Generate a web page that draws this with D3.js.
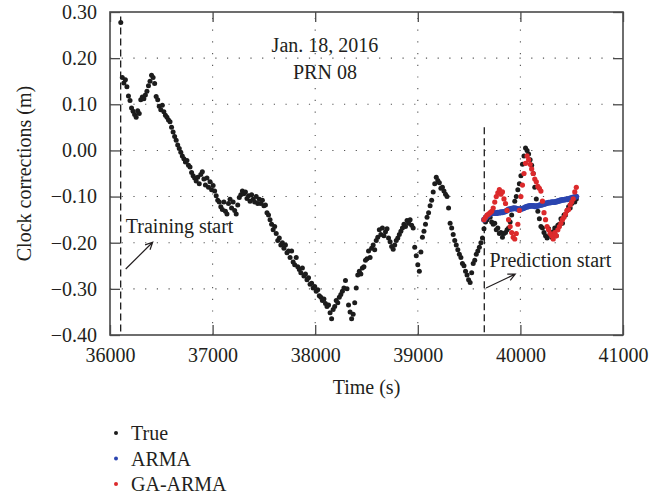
<!DOCTYPE html>
<html>
<head>
<meta charset="utf-8">
<script src="https://cdn.jsdelivr.net/npm/d3@7"></script>
<style>
body { margin: 0; background: #fff; }
svg text { font-family: "Liberation Serif", "Times New Roman", serif; fill: #231f20; }
</style>
</head>
<body>
<svg width="667" height="498"></svg>
<script>
// sampling of the clock series (s)
var tStart = 36105, tStep = 15;
var predStart = 39645;

var trueValues = [
  0.277, 0.158, 0.146, 0.153, 0.138, 0.118, 0.108, 0.092, 0.085, 0.078,
  0.072, 0.086, 0.080, 0.110, 0.116, 0.112, 0.120, 0.128, 0.140, 0.150,
  0.163, 0.158, 0.145, 0.117, 0.110, 0.096, 0.088, 0.098, 0.084, 0.076,
  0.072, 0.066, 0.062, 0.050, 0.040, 0.030, 0.022, 0.012, 0.004, -0.004,
  -0.012, -0.018, -0.025, -0.022, -0.032, -0.036, -0.048, -0.055, -0.060, -0.066,
  -0.058, -0.072, -0.052, -0.046, -0.062, -0.075, -0.060, -0.080, -0.068, -0.085,
  -0.076, -0.088, -0.098, -0.108, -0.112, -0.122, -0.128, -0.112, -0.132, -0.138,
  -0.115, -0.106, -0.125, -0.112, -0.130, -0.138, -0.118, -0.102, -0.096, -0.088,
  -0.094, -0.090, -0.104, -0.098, -0.110, -0.096, -0.106, -0.112, -0.100, -0.115,
  -0.106, -0.115, -0.108, -0.120, -0.118, -0.135, -0.140, -0.150, -0.160, -0.172,
  -0.165, -0.180, -0.195, -0.190, -0.205, -0.200, -0.212, -0.205, -0.222, -0.218,
  -0.232, -0.218, -0.242, -0.248, -0.232, -0.252, -0.258, -0.265, -0.255, -0.272,
  -0.268, -0.280, -0.276, -0.290, -0.288, -0.298, -0.295, -0.305, -0.302, -0.315,
  -0.318, -0.325, -0.322, -0.332, -0.338, -0.335, -0.352, -0.365, -0.345, -0.338,
  -0.325, -0.330, -0.318, -0.312, -0.305, -0.298, -0.282, -0.300, -0.335, -0.350,
  -0.365, -0.355, -0.330, -0.298, -0.270, -0.262, -0.268, -0.255, -0.252, -0.238,
  -0.235, -0.218, -0.232, -0.212, -0.205, -0.215, -0.195, -0.188, -0.172, -0.182,
  -0.168, -0.185, -0.176, -0.170, -0.190, -0.198, -0.208, -0.214, -0.205, -0.195,
  -0.190, -0.182, -0.175, -0.168, -0.160, -0.165, -0.152, -0.158, -0.150, -0.162,
  -0.168, -0.210, -0.228, -0.248, -0.262, -0.220, -0.188, -0.175, -0.160, -0.145,
  -0.135, -0.120, -0.108, -0.090, -0.072, -0.058, -0.065, -0.070, -0.082, -0.080,
  -0.088, -0.095, -0.100, -0.125, -0.158, -0.168, -0.182, -0.195, -0.205, -0.215,
  -0.225, -0.232, -0.245, -0.250, -0.262, -0.270, -0.280, -0.286, -0.265, -0.245,
  -0.238, -0.225, -0.218, -0.210, -0.200, -0.190, -0.170, -0.155, -0.150, -0.142,
  -0.145, -0.155, -0.160, -0.158, -0.172, -0.168, -0.180, -0.178, -0.188, -0.180,
  -0.178, -0.172, -0.168, -0.155, -0.140, -0.125, -0.110, -0.100, -0.085, -0.072,
  -0.055, -0.030, -0.012, 0.005, 0.000, -0.008, -0.020, -0.032, -0.050, -0.080,
  -0.105, -0.132, -0.148, -0.165, -0.168, -0.178, -0.185, -0.190, -0.170, -0.182,
  -0.188, -0.176, -0.168, -0.185, -0.162, -0.160, -0.148, -0.158, -0.140, -0.140,
  -0.130, -0.122, -0.125, -0.115, -0.110, -0.112, -0.105
];

var armaValues = [
  -0.150, -0.146, -0.142, -0.140, -0.137, -0.136, -0.135, -0.136, -0.136, -0.135,
  -0.135, -0.134, -0.134, -0.133, -0.132, -0.130, -0.128, -0.127, -0.126, -0.126,
  -0.125, -0.126, -0.127, -0.127, -0.127, -0.126, -0.125, -0.123, -0.122, -0.121,
  -0.120, -0.120, -0.120, -0.121, -0.121, -0.120, -0.119, -0.118, -0.117, -0.116,
  -0.115, -0.114, -0.113, -0.113, -0.112, -0.112, -0.112, -0.111, -0.110, -0.109,
  -0.108, -0.107, -0.107, -0.106, -0.106, -0.105, -0.104, -0.103, -0.102, -0.101,
  -0.100
];

var gaArmaValues = [
  -0.150, -0.145, -0.140, -0.138, -0.135, -0.132, -0.125, -0.112, -0.100, -0.092,
  -0.085, -0.095, -0.090, -0.105, -0.115, -0.130, -0.150, -0.165, -0.178, -0.188,
  -0.192, -0.180, -0.160, -0.130, -0.100, -0.075, -0.050, -0.028, -0.012, -0.020,
  -0.030, -0.040, -0.050, -0.062, -0.068, -0.078, -0.082, -0.088, -0.110, -0.135,
  -0.150, -0.165, -0.172, -0.180, -0.185, -0.192, -0.178, -0.185, -0.172, -0.165,
  -0.158, -0.150, -0.145, -0.138, -0.130, -0.128, -0.118, -0.112, -0.105, -0.090,
  -0.080
];

var xTicks = [36000, 37000, 38000, 39000, 40000, 41000];
var yTicks = [-0.4, -0.3, -0.2, -0.1, 0, 0.1, 0.2, 0.3];
var legendNames = ["True", "ARMA", "GA-ARMA"];
var legendColors = ["#1c1c1c", "#2b45b0", "#dc2a2c"];

var trainingStart = 36104, predictionStart = 39648;

var svg = d3.select("svg");
var padL = 110, padR = 623, padT = 12, padB = 335;

var x = d3.scaleLinear().domain([36000, 41000]).range([padL, padR]);
var y = d3.scaleLinear().domain([-0.4, 0.3]).range([padB, padT]);

// dotted grid
var grid = svg.append("g").attr("stroke", "#555").attr("stroke-width", 1.1)
  .attr("stroke-dasharray", "1.2,10.5");
grid.selectAll("line.gx").data(xTicks.slice(1, -1)).enter().append("line")
  .attr("x1", d => x(d)).attr("x2", d => x(d)).attr("y1", padB).attr("y2", padT);
grid.selectAll("line.gy").data(yTicks.slice(1, -1)).enter().append("line")
  .attr("y1", d => y(d)).attr("y2", d => y(d)).attr("x1", padL).attr("x2", padR);

// axes, ticks inward
function styleAxis(g) {
  g.select(".domain").remove();
  g.selectAll(".tick line").attr("stroke", "#4a4a4a").attr("stroke-width", 1.3);
  g.selectAll(".tick text").attr("font-size", 20).attr("fill", "#231f20")
    .attr("font-family", "Liberation Serif, serif");
}
svg.append("g").attr("transform", "translate(0," + padB + ")")
  .call(d3.axisBottom(x).tickValues(xTicks).tickFormat(d3.format("d"))
    .tickSizeInner(-10).tickSizeOuter(0).tickPadding(13))
  .call(styleAxis);
svg.append("g").attr("transform", "translate(0," + padT + ")")
  .call(d3.axisTop(x).tickValues(xTicks).tickFormat("")
    .tickSizeInner(-10).tickSizeOuter(0))
  .call(styleAxis);
svg.append("g").attr("transform", "translate(" + padL + ",0)")
  .call(d3.axisLeft(y).tickValues(yTicks).tickFormat(d3.format(".2f"))
    .tickSizeInner(-10).tickSizeOuter(0).tickPadding(13))
  .call(styleAxis);
svg.append("g").attr("transform", "translate(" + padR + ",0)")
  .call(d3.axisRight(y).tickValues(yTicks).tickFormat("")
    .tickSizeInner(-10).tickSizeOuter(0))
  .call(styleAxis);

svg.append("rect").attr("x", padL).attr("y", padT)
  .attr("width", padR - padL).attr("height", padB - padT)
  .attr("fill", "none").attr("stroke", "#4a4a4a").attr("stroke-width", 1.6);

// start markers
var dashed = svg.append("g").attr("stroke", "#1c1c1c").attr("stroke-width", 1.3)
  .attr("stroke-dasharray", "7,4");
dashed.append("line").attr("x1", x(trainingStart)).attr("x2", x(trainingStart))
  .attr("y1", y(0.29)).attr("y2", padB);
dashed.append("line").attr("x1", x(predictionStart)).attr("x2", x(predictionStart))
  .attr("y1", y(0.05)).attr("y2", padB);

// series
var trueData = trueValues.map((v, i) => ({t: tStart + i * tStep, v: v}));
var armaData = armaValues.map((v, i) => ({t: predStart + i * tStep, v: v}));
var gaData = gaArmaValues.map((v, i) => ({t: predStart + i * tStep, v: v}));

function dots(data, color, r) {
  svg.append("g").selectAll("circle").data(data).enter().append("circle")
    .attr("cx", d => x(d.t)).attr("cy", d => y(d.v)).attr("r", r)
    .attr("fill", color);
}
dots(trueData, legendColors[0], 2.5);
dots(armaData, legendColors[1], 2.9);
dots(gaData, legendColors[2], 2.6);

// annotations
function arrow(t1, v1, t2, v2) {
  var x1 = x(t1), y1 = y(v1), x2 = x(t2), y2 = y(v2);
  var a = Math.atan2(y2 - y1, x2 - x1), h = 8, w = 0.45;
  var p = "M" + x1 + "," + y1 + "L" + x2 + "," + y2 +
    "M" + (x2 - h * Math.cos(a - w)) + "," + (y2 - h * Math.sin(a - w)) +
    "L" + x2 + "," + y2 +
    "L" + (x2 - h * Math.cos(a + w)) + "," + (y2 - h * Math.sin(a + w));
  svg.append("path").attr("d", p).attr("fill", "none")
    .attr("stroke", "#231f20").attr("stroke-width", 1.2);
}
arrow(36153, -0.257, 36416, -0.199);
arrow(39665, -0.298, 39950, -0.268);

svg.append("text").attr("x", x(36154)).attr("y", y(-0.179))
  .attr("font-size", 20).text("Training start");
svg.append("text").attr("x", x(39700)).attr("y", y(-0.253))
  .attr("font-size", 20).text("Prediction start");
svg.append("text").attr("x", x(38095)).attr("y", y(0.213))
  .attr("text-anchor", "middle").attr("font-size", 20).text("Jan. 18, 2016");
svg.append("text").attr("x", x(38095)).attr("y", y(0.155))
  .attr("text-anchor", "middle").attr("font-size", 20).text("PRN 08");

// axis titles
svg.append("text").attr("x", (padL + padR) / 2).attr("y", 394)
  .attr("text-anchor", "middle").attr("font-size", 20).text("Time (s)");
svg.append("text").attr("transform", "translate(31," + ((padT + padB) / 2) + ") rotate(-90)")
  .attr("text-anchor", "middle").attr("font-size", 20).text("Clock corrections (m)");

// legend
var legend = svg.append("g").selectAll("g").data(legendNames).enter().append("g")
  .attr("transform", (d, i) => "translate(116," + (433 + i * 25.5) + ")");
legend.append("circle").attr("r", 2).attr("fill", (d, i) => legendColors[i]);
legend.append("text").attr("x", 15).attr("dy", "0.35em").attr("font-size", 20)
  .text(d => d);
</script>
</body>
</html>
